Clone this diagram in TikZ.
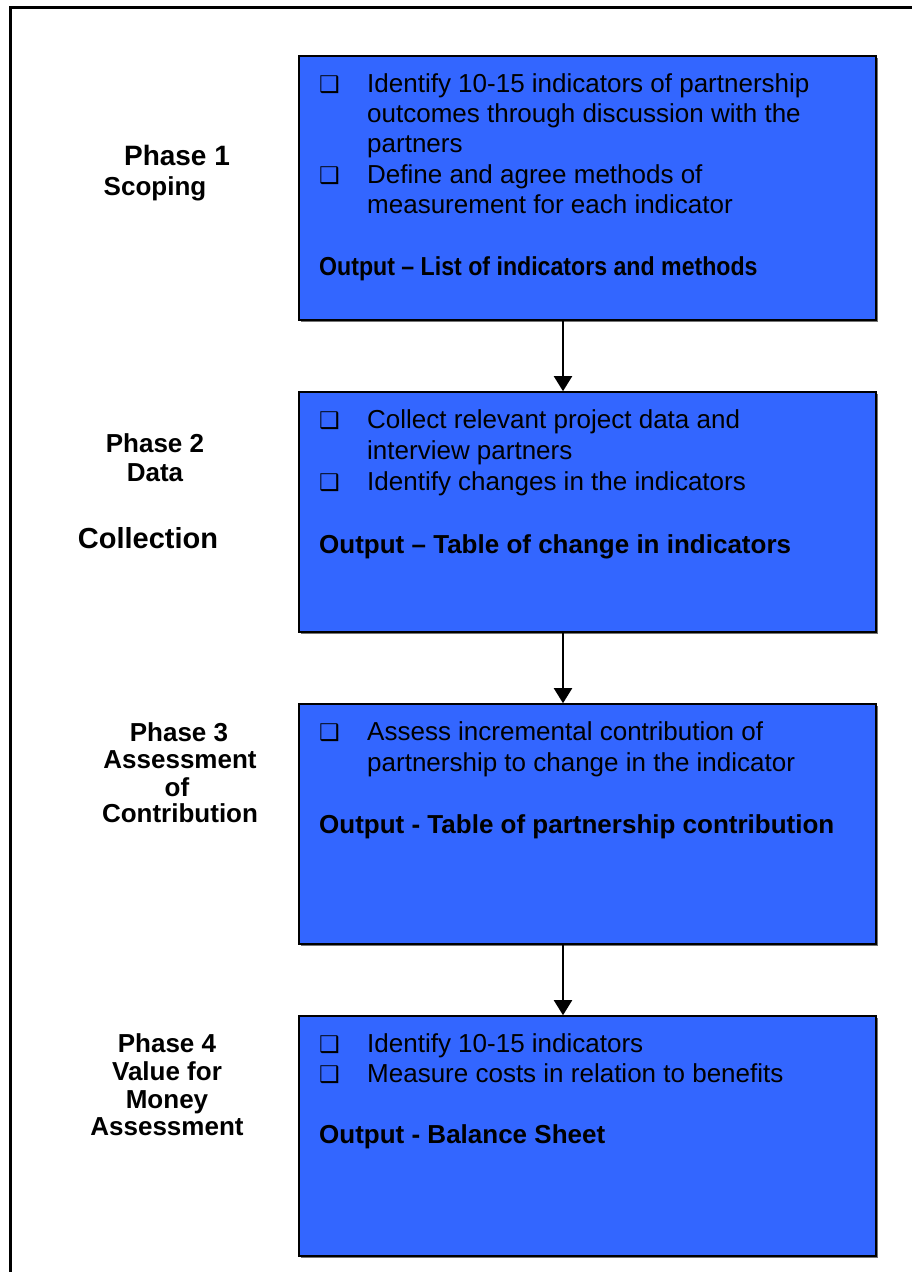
\documentclass[tikz,border=0pt]{standalone}
\usepackage{fontspec}
\setmainfont{Liberation Sans}
\newfontfamily\symfont{DejaVu Sans}
\newfontfamily\narrowfont[FakeStretch=0.89]{Liberation Sans}
\usetikzlibrary{arrows.meta,positioning,shadows}
\definecolor{cBox}{HTML}{3366FF}
\tikzset{
  phasebox/.style={draw=black,line width=1.6pt,fill=cBox,minimum width=577pt,inner sep=0pt,
    drop shadow={shadow xshift=1.5pt,shadow yshift=-1.5pt,fill=black!55,opacity=1}},
  item/.style={anchor=base west,inner sep=0pt,font=\fontsize{26}{30}\selectfont},
  outline/.style={anchor=base west,inner sep=0pt,font=\fontsize{26}{30}\selectfont\bfseries},
  tickbox/.style={anchor=base west,inner sep=0pt,font=\symfont\fontsize{23}{23}\selectfont},
  phase/.style={anchor=base,inner sep=0pt,font=\fontsize{26}{30}\selectfont\bfseries},
  flow/.style={-{Triangle[length=15pt,width=18pt]},line width=2pt},
  frame/.style={line width=3pt},
}
\newcommand{\qbox}{❑}

\begin{document}
\begin{tikzpicture}[x=1pt,y=-1pt]
  \useasboundingbox (0,0) rectangle (912,1272);
  \draw[frame] (10.5,1274) -- (10.5,7.7) -- (914,7.7);
  % phase boxes
  \node[phasebox,minimum height=264pt] (p1box) at (587.5,188) {};
  \node[phasebox,minimum height=240pt] (p2box) at (587.5,512) {};
  \node[phasebox,minimum height=240pt] (p3box) at (587.5,824) {};
  \node[phasebox,minimum height=240pt] (p4box) at (587.5,1136) {};
  % phase labels
  \node[phase,font=\fontsize{28}{30}\selectfont\bfseries] (p1a) at (177,165) {Phase 1};
  \node[phase] (p1b) at (155,195) {Scoping};
  \node[phase] (p2a) at (155,452) {Phase 2};
  \node[phase] (p2b) at (155,481) {Data};
  \node[phase,font=\fontsize{29}{30}\selectfont\bfseries] (p2c) at (148,548) {Collection};
  \node[phase] (p3a) at (179,741) {Phase 3};
  \node[phase] (p3b) at (180,768) {Assessment};
  \node[phase] (p3c) at (177,796) {of};
  \node[phase] (p3d) at (180,822) {Contribution};
  \node[phase] (p4a) at (167,1052) {Phase 4};
  \node[phase] (p4b) at (167,1080) {Value for};
  \node[phase] (p4c) at (167,1108) {Money};
  \node[phase] (p4d) at (167,1135) {Assessment};
  % phase 1
  \node[tickbox] (q11) at (319,92) {\qbox};
  \node[item] (t11) at (367,92) {Identify 10-15 indicators of partnership};
  \node[item] (t12) at (367,122) {outcomes through discussion with the};
  \node[item] (t13) at (367,152) {partners};
  \node[tickbox] (q12) at (319,183) {\qbox};
  \node[item] (t14) at (367,183) {Define and agree methods of};
  \node[item] (t15) at (367,213) {measurement for each indicator};
  \node[outline,font=\narrowfont\fontsize{26}{30}\selectfont\bfseries] (o1) at (319,275) {Output – List of indicators and methods};
  % phase 2
  \node[tickbox] (q21) at (319,428) {\qbox};
  \node[item] (t21) at (367,428) {Collect relevant project data and};
  \node[item] (t22) at (367,459) {interview partners};
  \node[tickbox] (q22) at (319,490) {\qbox};
  \node[item] (t23) at (367,490) {Identify changes in the indicators};
  \node[outline] (o2) at (319,553) {Output – Table of change in indicators};
  % phase 3
  \node[tickbox] (q31) at (319,740) {\qbox};
  \node[item] (t31) at (367,740) {Assess incremental contribution of};
  \node[item] (t32) at (367,771) {partnership to change in the indicator};
  \node[outline] (o3) at (319,833) {Output - Table of partnership contribution};
  % phase 4
  \node[tickbox] (q41) at (319,1052) {\qbox};
  \node[item] (t41) at (367,1052) {Identify 10-15 indicators};
  \node[tickbox] (q42) at (319,1082) {\qbox};
  \node[item] (t42) at (367,1082) {Measure costs in relation to benefits};
  \node[outline] (o4) at (319,1143) {Output - Balance Sheet};
  % flow
  \draw[flow] (p1box.south -| 563,0) -- (p2box.north -| 563,0);
  \draw[flow] (p2box.south -| 563,0) -- (p3box.north -| 563,0);
  \draw[flow] (p3box.south -| 563,0) -- (p4box.north -| 563,0);
\end{tikzpicture}
\end{document}
